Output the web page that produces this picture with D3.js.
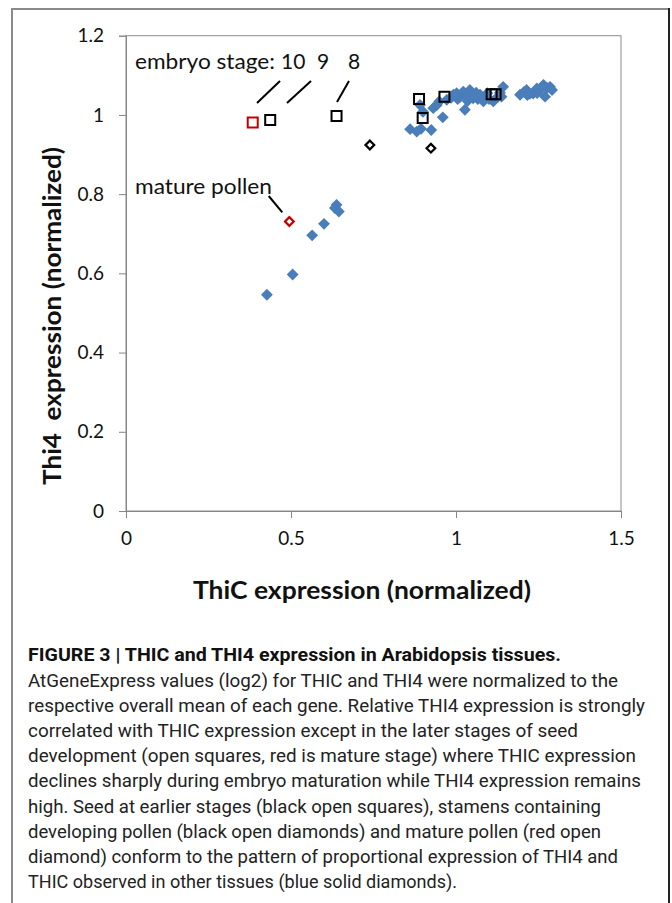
<!DOCTYPE html>
<html><head><meta charset="utf-8">
<script src="https://cdn.jsdelivr.net/npm/d3@7"></script>
<style>body{margin:0;background:#fff}svg{display:block}</style>
</head><body>
<svg id="c" width="672" height="903"></svg>
<script>
// Data (ThiC normalized x, Thi4 normalized y)
const blueX = [0.427,0.505,0.564,0.600,0.638,0.645,0.633,
  0.861,0.881,0.894,0.925,0.960,0.931,0.942,0.949,0.891,0.900,0.972,0.992,1.002,1.012,1.022,1.030,1.042,1.027,1.052,1.061,1.073,1.083,1.091,1.113,1.133,1.143,1.138,1.194,1.206,1.214,1.224,1.234,1.245,1.255,1.265,1.276,1.285,1.270,1.291,
  1.005,1.035,1.046,1.066,1.095,1.100,1.126,1.216,1.246,0.985];
const blueY = [0.546,0.597,0.696,0.725,0.773,0.756,0.765,
  0.964,0.958,0.965,0.962,0.994,1.017,1.025,1.034,1.025,1.008,1.038,1.051,1.055,1.045,1.059,1.048,1.063,1.013,1.042,1.056,1.051,1.034,1.045,1.034,1.056,1.071,1.046,1.051,1.058,1.063,1.053,1.054,1.067,1.063,1.076,1.068,1.071,1.046,1.063,
  1.040,1.035,1.050,1.040,1.055,1.040,1.045,1.050,1.055,1.043];
const seedX = [0.437,0.638,0.888,0.965,0.899,1.108,1.120];
const seedY = [0.987,0.997,1.040,1.046,0.992,1.052,1.052];
const matureSeedX = [0.384];
const matureSeedY = [0.981];
const stamenX = [0.739,0.924];
const stamenY = [0.924,0.916];
const pollenX = [0.495];
const pollenY = [0.731];
const xTicks = [0,0.5,1,1.5];
const yTicks = [0,0.2,0.4,0.6,0.8,1,1.2];
const xTitle = "ThiC expression (normalized)";
const yTitle = "Thi4  expression (normalized)";
const captionTitle = "FIGURE 3 | THIC and THI4 expression in Arabidopsis tissues.";
const captionLines = [
 "AtGeneExpress values (log2) for THIC and THI4 were normalized to the",
 "respective overall mean of each gene. Relative THI4 expression is strongly",
 "correlated with THIC expression except in the later stages of seed",
 "development (open squares, red is mature stage) where THIC expression",
 "declines sharply during embryo maturation while THI4 expression remains",
 "high. Seed at earlier stages (black open squares), stamens containing",
 "developing pollen (black open diamonds) and mature pollen (red open",
 "diamond) conform to the pattern of proportional expression of THI4 and",
 "THIC observed in other tissues (blue solid diamonds)."
];
const captionWidths = [590,617,550,608,613,573,573,590,429];

const svg = d3.select("#c");
const F = "Lato, 'Open Sans', sans-serif";
// outer frame
svg.append("line").attr("x1",12).attr("y1",9).attr("x2",12).attr("y2",903).attr("stroke","#8a8a8a").attr("stroke-width",2);
svg.append("line").attr("x1",11).attr("y1",9).attr("x2",669).attr("y2",9).attr("stroke","#8a8a8a").attr("stroke-width",2);
svg.append("line").attr("x1",669).attr("y1",8).attr("x2",669).attr("y2",903).attr("stroke","#222").attr("stroke-width",2);

const L=126, R=621, T=35.7, B=511;
const x = d3.scaleLinear().domain([0,1.5]).range([L,R]);
const y = d3.scaleLinear().domain([0,1.2]).range([B,T]);

svg.append("rect").attr("x",L).attr("y",T).attr("width",R-L).attr("height",B-T)
  .attr("fill","none").attr("stroke","#8c8c8c").attr("stroke-width",1);

const ya = svg.append("g").attr("transform",`translate(${L},0)`)
  .call(d3.axisLeft(y).tickValues(yTicks).tickFormat(d3.format("~g")).tickSize(7).tickPadding(15));
const xa = svg.append("g").attr("transform",`translate(0,${B})`)
  .call(d3.axisBottom(x).tickValues(xTicks).tickFormat(d3.format("~g")).tickSize(7).tickPadding(14));
[ya,xa].forEach(g=>{
  g.select(".domain").attr("stroke","#868686");
  g.selectAll(".tick line").attr("stroke","#868686");
  g.selectAll("text").attr("font-family",F).attr("font-size",19).attr("fill","#111");
});

const diamond = d3.symbol().type(d3.symbolSquare);
// blue solid diamonds
svg.append("g").selectAll("path").data(blueX.map((v,i)=>[v,blueY[i]])).join("path")
  .attr("d",diamond.size(70)())
  .attr("transform",d=>`translate(${x(d[0])},${y(d[1])}) rotate(45)`)
  .attr("fill","#4a7ebb");
// open squares
function squares(xs,ys,col){
  svg.append("g").selectAll("path").data(xs.map((v,i)=>[v,ys[i]])).join("path")
    .attr("d",d3.symbol().type(d3.symbolSquare).size(100)())
    .attr("transform",d=>`translate(${x(d[0])},${y(d[1])})`)
    .attr("fill","none").attr("stroke",col).attr("stroke-width",2);
}
squares(seedX,seedY,"#000");
squares(matureSeedX,matureSeedY,"#c00000");
function diamonds(xs,ys,col){
  svg.append("g").selectAll("path").data(xs.map((v,i)=>[v,ys[i]])).join("path")
    .attr("d",d3.symbol().type(d3.symbolSquare).size(38)())
    .attr("transform",d=>`translate(${x(d[0])},${y(d[1])}) rotate(45)`)
    .attr("fill","#fff").attr("stroke",col).attr("stroke-width",2.2);
}
diamonds(stamenX,stamenY,"#000");
diamonds(pollenX,pollenY,"#c00000");

// annotations
const ann = svg.append("g").attr("font-family",F).attr("font-size",21).attr("fill","#111");
ann.append("text").attr("x",135).attr("y",69).text("embryo stage:").attr("textLength",140).attr("lengthAdjust","spacingAndGlyphs");
ann.append("text").attr("x",281).attr("y",69).text("10");
ann.append("text").attr("x",317).attr("y",69).text("9");
ann.append("text").attr("x",348).attr("y",69).text("8");
ann.append("text").attr("x",135).attr("y",194).text("mature pollen").attr("textLength",137).attr("lengthAdjust","spacingAndGlyphs");
const lines = [[257,103,280,81],[287,103,311,81],[337,102,349,81],[268.7,196,282.3,212.3]];
svg.append("g").selectAll("line").data(lines).join("line")
  .attr("x1",d=>d[0]).attr("y1",d=>d[1]).attr("x2",d=>d[2]).attr("y2",d=>d[3])
  .attr("stroke","#000").attr("stroke-width",2);

// axis titles
svg.append("text").attr("x",362).attr("y",599).attr("text-anchor","middle")
  .attr("font-family",F).attr("font-weight","bold").attr("font-size",25).attr("fill","#111")
  .attr("textLength",338).attr("lengthAdjust","spacingAndGlyphs").text(xTitle);
svg.append("text").attr("transform","translate(61,316) rotate(-90)").attr("text-anchor","middle")
  .style("white-space","pre")
  .attr("font-family",F).attr("font-weight","bold").attr("font-size",25).attr("fill","#111")
  .attr("textLength",338).attr("lengthAdjust","spacingAndGlyphs").text(yTitle);

// caption
const CF = "Roboto, 'Liberation Sans', sans-serif";
svg.append("text").attr("x",28).attr("y",661).attr("font-family",CF).attr("font-weight","bold")
  .attr("font-size",18.5).attr("fill","#111").attr("textLength",533).attr("lengthAdjust","spacingAndGlyphs").text(captionTitle);
svg.append("g").selectAll("text").data(captionLines).join("text")
  .attr("x",28).attr("y",(d,i)=>687+i*25.1).attr("font-family",CF).attr("font-size",18.5).attr("fill","#222")
  .attr("textLength",(d,i)=>captionWidths[i]).attr("lengthAdjust","spacingAndGlyphs").text(d=>d);
</script>
</body></html>
